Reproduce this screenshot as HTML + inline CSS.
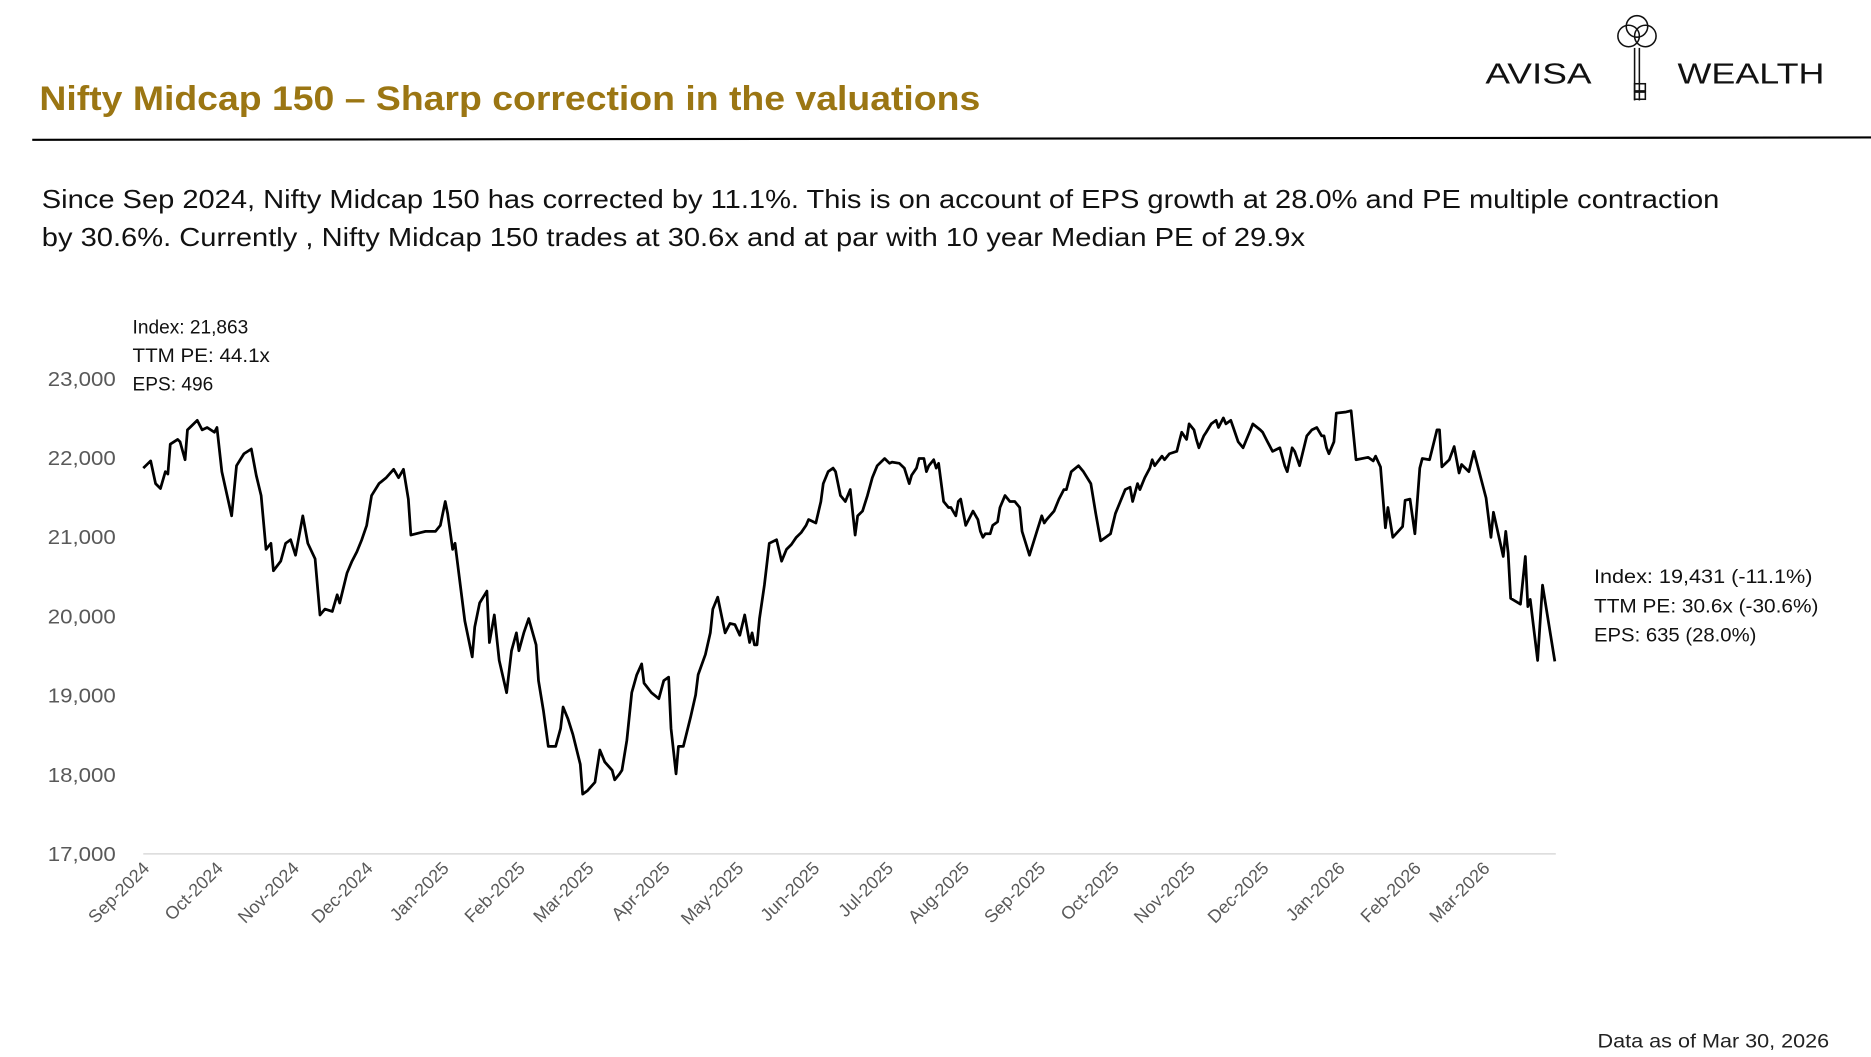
<!DOCTYPE html>
<html><head><meta charset="utf-8"><style>
html,body{margin:0;padding:0;background:#fff;}
svg{display:block;}
text{font-family:"Liberation Sans",sans-serif;}
</style></head><body>
<svg id="chart" width="1871" height="1057" viewBox="0 0 1567 885" xmlns="http://www.w3.org/2000/svg">
<rect width="1567" height="885" fill="#fff"/>
<text x="33" y="92" font-size="29" font-weight="bold" fill="#9b7613" textLength="788" lengthAdjust="spacingAndGlyphs">Nifty Midcap 150 – Sharp correction in the valuations</text>
<line x1="27" y1="117" x2="1567" y2="115" stroke="#000" stroke-width="1.8"/>
<g>
<text x="1244" y="70" font-size="24" fill="#111" textLength="89" lengthAdjust="spacingAndGlyphs" font-weight="300">AVISA</text>
<text x="1405" y="70" font-size="24" fill="#111" textLength="123" lengthAdjust="spacingAndGlyphs">WEALTH</text>
<g fill="none" stroke="#111" stroke-width="1.3">
<circle cx="1364" cy="30" r="9"/><circle cx="1378" cy="30" r="9"/><circle cx="1371" cy="22" r="9"/>
<line x1="1369" y1="40" x2="1369" y2="84"/><line x1="1373" y1="40" x2="1373" y2="84"/>
<rect x="1369" y="70" width="9" height="6"/><rect x="1369" y="77" width="9" height="6"/>
</g>
</g>
<text x="35" y="174" font-size="22" fill="#111" textLength="1405" lengthAdjust="spacingAndGlyphs">Since Sep 2024, Nifty Midcap 150 has corrected by 11.1%. This is on account of EPS growth at 28.0% and PE multiple contraction</text>
<text x="35" y="206" font-size="22" fill="#111" textLength="1058" lengthAdjust="spacingAndGlyphs">by 30.6%. Currently , Nifty Midcap 150 trades at 30.6x and at par with 10 year Median PE of 29.9x</text>
<g font-size="16" fill="#111">
<text x="111" y="279">Index: 21,863</text>
<text x="111" y="303" textLength="115" lengthAdjust="spacingAndGlyphs">TTM PE: 44.1x</text>
<text x="111" y="327">EPS: 496</text>
</g>
<g font-size="16" fill="#111">
<text x="1335" y="488" textLength="183" lengthAdjust="spacingAndGlyphs">Index: 19,431 (-11.1%)</text>
<text x="1335" y="513" textLength="188" lengthAdjust="spacingAndGlyphs">TTM PE: 30.6x (-30.6%)</text>
<text x="1335" y="537" textLength="136" lengthAdjust="spacingAndGlyphs">EPS: 635 (28.0%)</text>
</g>
<text x="1338" y="877" font-size="16" fill="#222" textLength="194" lengthAdjust="spacingAndGlyphs">Data as of Mar 30, 2026</text>
<line x1="120" y1="715" x2="1303" y2="715" stroke="#d9d9d9" stroke-width="1.2"/>
<g id="yticks"></g><g id="xticks"></g><g id="series"></g>
</svg>
<script>
const yTicks=[17000,18000,19000,20000,21000,22000,23000];
const monthLabels=["Sep-2024","Oct-2024","Nov-2024","Dec-2024","Jan-2025","Feb-2025","Mar-2025","Apr-2025","May-2025","Jun-2025","Jul-2025","Aug-2025","Sep-2025","Oct-2025","Nov-2025","Dec-2025","Jan-2026","Feb-2026","Mar-2026"];
const monthDays=[0,30,61,91,122,153,181,212,242,273,303,334,365,395,426,456,487,518,546];
const days=[0,2,3,5,7,9,10,11,14,15,17,18,20,22,24,26,29,30,32,36,38,41,44,46,48,50,52,53,56,58,60,62,65,67,70,72,74,77,79,80,83,85,87,89,91,93,96,99,102,104,106,108,109,113,115,117,119,121,123,124,126,127,131,134,135,137,140,141,143,145,148,150,152,153,155,157,160,161,163,165,168,170,171,173,175,178,179,181,184,186,188,191,192,194,195,197,199,201,203,204,207,210,212,214,215,217,218,220,223,225,226,229,231,232,234,236,237,239,241,243,245,247,248,249,250,251,253,255,258,260,262,264,266,268,270,271,274,276,277,279,281,282,284,286,288,290,291,293,295,297,299,302,304,305,308,310,312,313,315,316,318,319,320,322,323,324,326,328,329,331,332,333,335,337,338,340,341,342,343,345,346,348,349,351,353,355,357,358,361,364,366,367,368,371,373,375,376,378,381,383,386,388,390,392,394,396,398,400,402,403,405,406,408,410,411,412,415,416,418,421,422,423,425,426,428,429,430,432,433,435,437,438,440,441,443,444,446,448,451,452,455,456,458,460,463,465,466,468,469,471,474,476,478,480,481,482,483,485,486,490,492,494,499,501,502,504,506,507,509,513,514,516,518,520,521,524,527,528,529,532,534,536,537,540,542,547,549,550,554,555,556,557,561,563,564,565,568,570,575];
const values=[21871,21931,21961,21675,21614,21826,21795,22172,22233,22203,21976,22353,22414,22474,22353,22384,22323,22384,21826,21268,21901,22052,22112,21780,21524,20845,20921,20574,20695,20921,20966,20770,21268,20921,20725,20016,20091,20061,20272,20167,20544,20695,20815,20966,21147,21524,21675,21750,21856,21750,21856,21479,21026,21057,21072,21072,21072,21147,21449,21298,20845,20921,19941,19488,19865,20167,20318,19669,20016,19443,19036,19564,19790,19564,19790,19971,19639,19187,18810,18357,18357,18583,18855,18704,18508,18131,17754,17799,17905,18312,18161,18056,17935,18010,18056,18433,19036,19262,19398,19156,19036,18960,19187,19232,18583,18010,18357,18357,18734,19006,19262,19518,19790,20091,20242,19941,19790,19910,19895,19760,20016,19669,19790,19639,19639,19971,20393,20921,20966,20695,20845,20906,20996,21057,21147,21222,21177,21449,21675,21826,21871,21826,21524,21449,21599,21026,21268,21328,21524,21750,21901,21991,21931,21946,21931,21871,21675,21780,21871,21991,21991,21826,21901,21976,21871,21931,21449,21373,21373,21268,21449,21479,21147,21268,21328,21222,21072,20996,21042,21042,21147,21192,21373,21524,21449,21449,21373,21072,20770,21072,21268,21177,21222,21328,21479,21599,21599,21826,21901,21826,21675,21298,20951,20996,21042,21298,21449,21599,21630,21449,21675,21599,21750,21871,21976,21901,22022,21976,22052,22082,22203,22323,22233,22429,22353,22233,22127,22278,22323,22429,22474,22384,22504,22429,22474,22384,22203,22127,22353,22429,22353,22323,22203,22082,22127,21901,21826,22127,22082,21901,22278,22353,22384,22278,22278,22127,22052,22203,22565,22580,22595,21976,22007,21961,22022,21886,21117,21373,20996,21132,21464,21479,21042,21871,21991,21976,22353,22353,21886,21976,22142,21810,21916,21826,22082,21494,20996,21313,20755,21072,20800,20227,20152,20755,20122,20212,19443,20393,19431];

const NS="http://www.w3.org/2000/svg";
const X0=120,DPX=2.056,Y0=715,YMIN=17000,PXPER=66.33/1000;
function xScale(d){return X0+d*DPX;}
function yScale(v){return Y0-(v-YMIN)*PXPER;}
const yg=document.getElementById('yticks');
yTicks.forEach(function(t){
  const tx=document.createElementNS(NS,'text');
  tx.setAttribute('x',97);tx.setAttribute('y',yScale(t)+6);
  tx.setAttribute('text-anchor','end');tx.setAttribute('font-size','17');tx.setAttribute('fill','#595959');
  tx.setAttribute('textLength','57');tx.setAttribute('lengthAdjust','spacingAndGlyphs');
  tx.textContent=t.toLocaleString('en-US');
  
  
  yg.appendChild(tx);
});
const xg=document.getElementById('xticks');
monthLabels.forEach(function(m,i){
  const x=xScale(monthDays[i])+6,y=728;
  const tx=document.createElementNS(NS,'text');
  tx.setAttribute('x',x);tx.setAttribute('y',y);
  tx.setAttribute('text-anchor','end');tx.setAttribute('font-size','15');tx.setAttribute('fill','#595959');
  tx.setAttribute('transform','rotate(-45 '+x+' '+y+')');
  tx.textContent=m;
  
  
  xg.appendChild(tx);
});
let d='';
days.forEach(function(dd,i){d+=(i?'L':'M')+xScale(dd).toFixed(1)+' '+yScale(values[i]).toFixed(1);});
const p=document.createElementNS(NS,'path');
p.setAttribute('d',d);p.setAttribute('fill','none');p.setAttribute('stroke','#000');
p.setAttribute('stroke-width','2.3');p.setAttribute('stroke-linejoin','round');


document.getElementById('series').appendChild(p);
</script>
</body></html>
